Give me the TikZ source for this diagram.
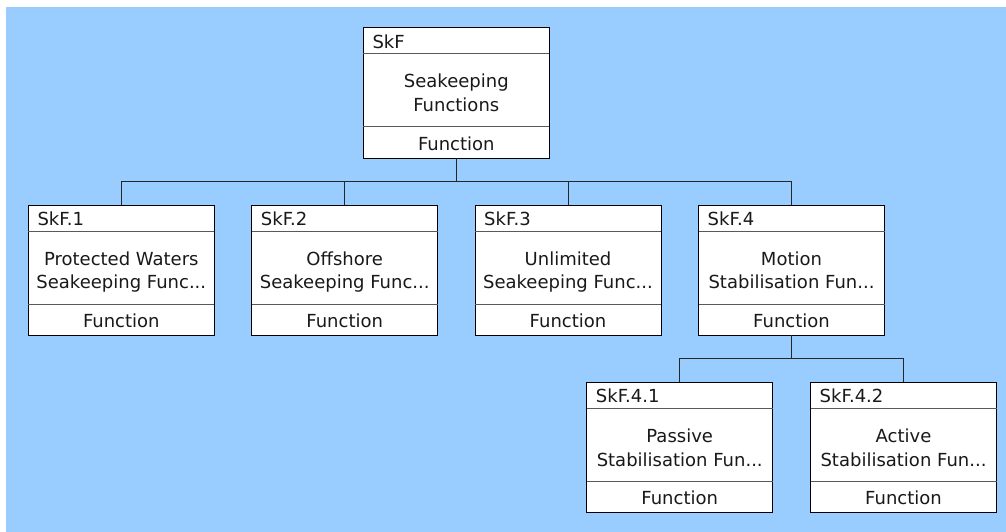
\documentclass[tikz,border=0pt]{standalone}
\usepackage{fontspec}
\setmainfont{DejaVu Sans}
\usetikzlibrary{calc}

\definecolor{canvasblue}{RGB}{153,204,255}

\tikzset{
  fnbox/.style={draw=black, fill=white, line width=1pt,
    minimum width=186pt, minimum height=130.4pt, inner sep=0pt, outer sep=0pt},
  divider/.style={draw=black!65, line width=1pt},
  fntext/.style={inner sep=0pt, font=\fontsize{18}{21}\selectfont, text=black!90},
  conn/.style={draw=black!85, line width=1pt},
}

% A function block: #1 name, #2 centre x, #3 top y, #4 identifier, #5/#6 title lines
\newcommand\funcblock[6]{%
  \node[fnbox, anchor=north] (#1) at (#2,#3) {};
  \draw[divider] ([yshift=-26.3pt]#1.north west) -- ([yshift=-26.3pt]#1.north east);
  \draw[divider] ([yshift=31.2pt]#1.south west) -- ([yshift=31.2pt]#1.south east);
  \node[fntext, anchor=base west] (#1-id) at ([xshift=9pt,yshift=-20.5pt]#1.north west) {#4};
  \node[fntext, anchor=base] (#1-a) at ([yshift=-60.2pt]#1.north) {#5};
  \node[fntext, anchor=base] (#1-b) at ([yshift=-83.8pt]#1.north) {#6};
  \node[fntext, anchor=base] (#1-kind) at ([yshift=-122.6pt]#1.north) {Function};
}

\begin{document}
\begin{tikzpicture}[x=1pt, y=-1pt]
  \useasboundingbox (0,0) rectangle (1006,532);
  \fill[white] (0,0) rectangle (1006,532);
  \fill[canvasblue] (6,6.7) rectangle (1006,532);

  % blocks
  \funcblock{skf}{456.3}{27.7}{SkF}{Seakeeping}{Functions}
  \funcblock{skf1}{121.3}{205}{SkF.1}{Protected Waters}{Seakeeping Func...}
  \funcblock{skf2}{344.7}{205}{SkF.2}{Offshore}{Seakeeping Func...}
  \funcblock{skf3}{568}{205}{SkF.3}{Unlimited}{Seakeeping Func...}
  \funcblock{skf4}{791.5}{205}{SkF.4}{Motion}{Stabilisation Fun...}
  \funcblock{skf41}{679.7}{382.3}{SkF.4.1}{Passive}{Stabilisation Fun...}
  \funcblock{skf42}{903.5}{382.3}{SkF.4.2}{Active}{Stabilisation Fun...}

  % tree connectors
  \coordinate (j0) at ($(skf.south)+(0,23)$);
  \coordinate (j4) at ($(skf4.south)+(0,23)$);
  \draw[conn] (skf.south) -- (j0);
  \foreach \c in {skf1,skf2,skf3,skf4}
    \draw[conn] (j0) -| (\c.north);
  \draw[conn] (skf4.south) -- (j4);
  \foreach \c in {skf41,skf42}
    \draw[conn] (j4) -| (\c.north);
\end{tikzpicture}
\end{document}
